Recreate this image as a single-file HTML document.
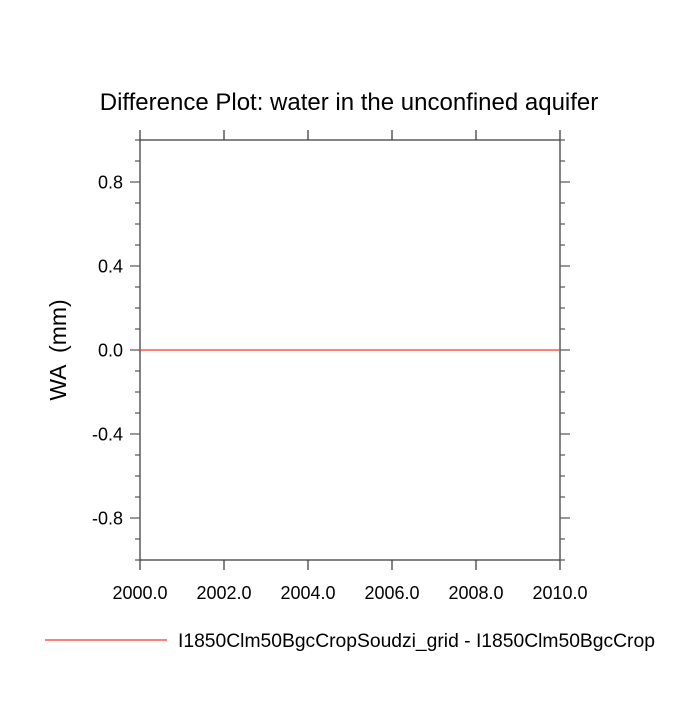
<!DOCTYPE html>
<html><head><meta charset="utf-8"><style>
body{margin:0;background:#fff;}
svg text{font-family:"Liberation Sans",sans-serif;fill:#000;}
</style></head><body>
<svg id="chart" width="700" height="700" xmlns="http://www.w3.org/2000/svg">
<rect width="700" height="700" fill="#fff"/>
<text x="349" y="110" font-size="24" text-anchor="middle">Difference Plot: water in the unconfined aquifer</text>
<text transform="translate(66,350) rotate(-90)" font-size="23" text-anchor="middle" xml:space="preserve" style="white-space:pre">WA  (mm)</text>
<g id="axes"></g>
<g id="series"></g>
<line x1="45" y1="640" x2="167" y2="640" stroke="#ff3030" stroke-width="1.2"/>
<text x="178" y="647" font-size="19.3">I1850Clm50BgcCropSoudzi_grid - I1850Clm50BgcCrop</text>
</svg>
<script>
const years = [2000,2001,2002,2003,2004,2005,2006,2007,2008,2009,2010];
const diffValues = [0,0,0,0,0,0,0,0,0,0,0];
const xTicks = [2000,2002,2004,2006,2008,2010];
const xTickLabels = ["2000.0","2002.0","2004.0","2006.0","2008.0","2010.0"];
const yTicks = [0.8,0.4,0.0,-0.4,-0.8];
const yTickLabels = ["0.8","0.4","0.0","-0.4","-0.8"];

const L=140,R=560,T=140,B=560;
const xs=v=>L+(v-2000)/10*(R-L);
const ys=v=>T+(1-v)/2*(B-T);
const NS="http://www.w3.org/2000/svg";
const ax=document.getElementById('axes');
function mk(tag,attrs,parent){const e=document.createElementNS(NS,tag);for(const k in attrs)e.setAttribute(k,attrs[k]);parent.appendChild(e);return e;}
const frame=mk('rect',{x:L,y:T,width:R-L,height:B-T,fill:'none',stroke:'#333','stroke-width':1.2},ax);


xTicks.forEach((v,i)=>{
  const x=xs(v);
  const t1=mk('line',{x1:x,y1:B,x2:x,y2:B+10,stroke:'#333','stroke-width':1.2},ax);
  
  
  const t2=mk('line',{x1:x,y1:T,x2:x,y2:T-10,stroke:'#333','stroke-width':1.2},ax);
  
  
  const lb=mk('text',{x:x,y:B+39,'font-size':18,'text-anchor':'middle'},ax);
  lb.textContent=xTickLabels[i];
  
  
});
for(let k=-10;k<=10;k++){
  const v=k/10; const y=ys(v);
  const major=(k%4===0)&&Math.abs(k)<10;
  const len=major?10:5;
  const a=mk('line',{x1:L-len,y1:y,x2:L,y2:y,stroke:'#555','stroke-width':1.2},ax);
  
  
  const b=mk('line',{x1:R,y1:y,x2:R+len,y2:y,stroke:'#555','stroke-width':1.2},ax);
  
  
}
yTicks.forEach((v,i)=>{
  const lb=mk('text',{x:L-17,y:ys(v)+6.5,'font-size':18,'text-anchor':'end'},ax);
  lb.textContent=yTickLabels[i];
  
  
});
const pts=years.map((yr,i)=>xs(yr)+','+ys(diffValues[i])).join(' ');
const pl=mk('polyline',{points:pts,fill:'none',stroke:'#ff3030','stroke-width':1.2},document.getElementById('series'));


</script>
</body></html>
